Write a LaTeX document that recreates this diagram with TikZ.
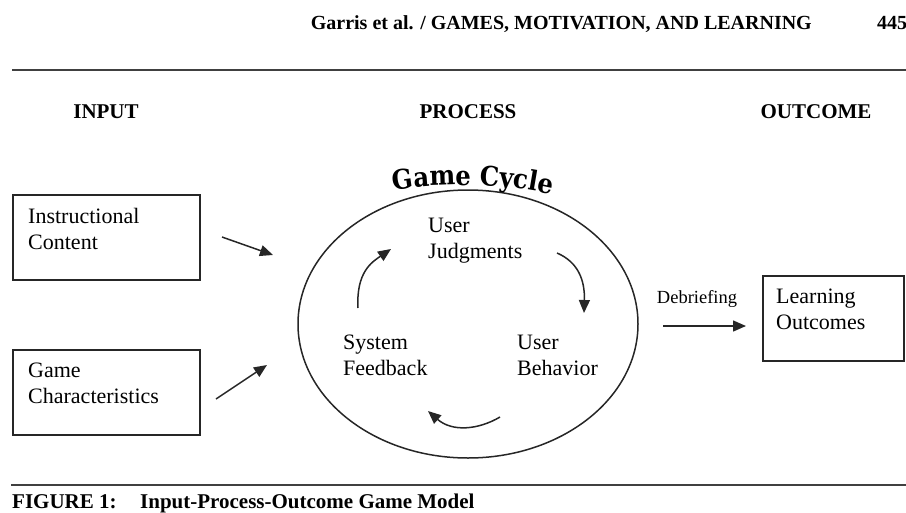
\documentclass[tikz,border=0pt]{standalone}
\usepackage{fontspec}
\setmainfont{Liberation Serif}
\newfontfamily\cyclefont[FakeStretch=0.9]{DejaVu Serif}
\usetikzlibrary{arrows.meta,shapes.geometric,decorations.text}

\tikzset{
  rulebar/.style={line width=2.4pt, draw=black!75},
  framebox/.style={draw=black!85, line width=1.5pt, rectangle, inner sep=0pt,
    anchor=north west, minimum width=187pt, minimum height=85pt},
  % multi-line labels: the base anchor sits on the last line
  boxtext/.style={font=\fontsize{22}{26}\selectfont, align=left,
    anchor=base west, inner sep=0pt},
  colhead/.style={font=\fontsize{21}{25}\selectfont\bfseries, anchor=base, inner sep=0pt},
  flow/.style={draw=black!85, line width=1.5pt, -{Triangle[length=13pt,width=11pt]}},
}

\begin{document}
\begin{tikzpicture}[x=1pt,y=-1pt]
\useasboundingbox (0,0) rectangle (906,512);

% running head and rules
\node[font=\fontsize{20}{24}\selectfont\bfseries, anchor=base east, inner sep=0pt]
  (runhead) at (812,29) {Garris et al. / GAMES, MOTIVATION, AND LEARNING};
\node[font=\fontsize{20}{24}\selectfont\bfseries, anchor=base west, inner sep=0pt]
  (pageno) at (877,29) {445};
\draw[rulebar] (12,70) -- (906,70);
\draw[rulebar] (11,485) -- (906,485);

% column headings
\node[colhead] (hin)  at (106,118) {INPUT};
\node[colhead] (hpr)  at (468,118) {PROCESS};
\node[colhead] (hout) at (816,118) {OUTCOME};

% input boxes
\node[framebox] (ic) at (12,194) {};
\node[boxtext] (ictext) at (28,249) {Instructional\\Content};
\node[framebox] (gc) at (12,349) {};
\node[boxtext] (gctext) at (28,403) {Game\\Characteristics};

% game cycle
\node[draw=black!85, line width=1.5pt, ellipse, minimum width=340pt,
  minimum height=268pt, inner sep=0pt] (cycle) at (468,324) {};
\path[decorate, decoration={text along path, text align=center,
  text={|\cyclefont\bfseries\fontsize{27}{27}\selectfont|Game Cycle}}]
  (385,192) .. controls (430,182) and (510,182) .. (560,197);

\node[boxtext] (uj) at (428,258) {User\\Judgments};
\node[boxtext] (sf) at (343,375) {System\\Feedback};
\node[boxtext] (ub) at (517,375) {User\\Behavior};

\draw[flow] (358,308) .. controls (356,272) and (372,262) .. (391,249);
\draw[flow] (557,253) .. controls (578,262) and (585,280) .. (584,313);
\draw[flow] (500,417) .. controls (478,430) and (452,432) .. (428,411);

% inputs into the cycle
\coordinate (icout) at (222,237);
\coordinate (icin)  at (273,255);
\coordinate (gcout) at (216,399);
\coordinate (gcin)  at (267,365);
\draw[flow] (icout) -- (icin);
\draw[flow] (gcout) -- (gcin);

% outcome
\coordinate (dbout) at (663,326);
\coordinate (dbin)  at (746,326);
\draw[flow] (dbout) -- (dbin);
\node[font=\fontsize{18.5}{22}\selectfont, anchor=base, inner sep=0pt]
  (debrief) at (697,303) {Debriefing};
\node[framebox, minimum width=141pt] (lo) at (762,275) {};
\node[boxtext] (lotext) at (776,329) {Learning\\Outcomes};

% caption
\node[font=\fontsize{21}{25}\selectfont\bfseries, anchor=base west, inner sep=0pt]
  (figno) at (12,508) {FIGURE 1:};
\node[font=\fontsize{21}{25}\selectfont\bfseries, anchor=base west, inner sep=0pt]
  (figtitle) at (140,508) {Input-Process-Outcome Game Model};
\end{tikzpicture}
\end{document}
